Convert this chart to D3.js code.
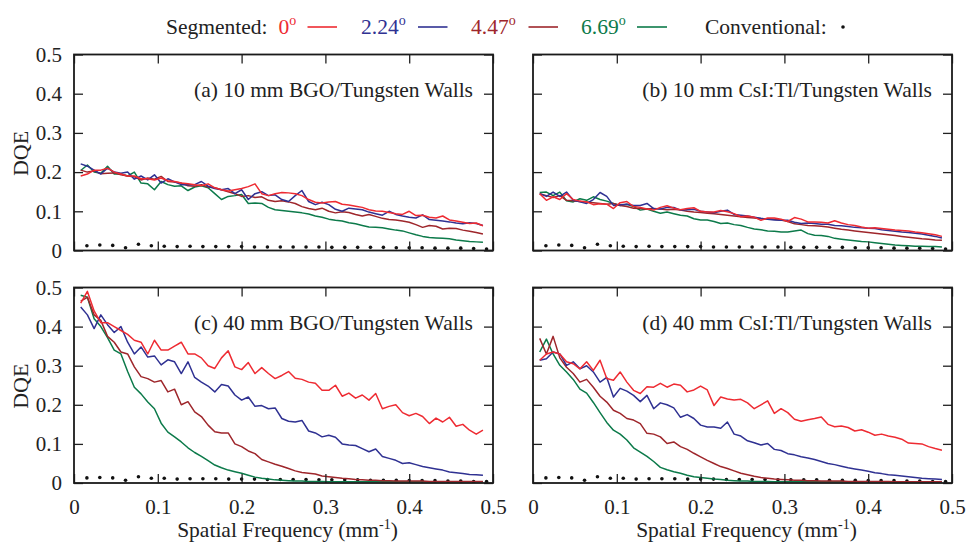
<!DOCTYPE html>
<html>
<head>
<meta charset="utf-8">
<script src="https://cdn.jsdelivr.net/npm/d3@7"></script>
<style>
  body { margin: 0; background: #fff; }
  svg { display: block; }
  text { font-family: "Liberation Serif", "Times New Roman", serif; fill: #222; }
</style>
</head>
<body>
<svg id="chart" width="967" height="543"></svg>
<script>
// Spatial frequency sample points (mm^-1) shared by the segmented-detector curves
const frequency = [0.008,0.016,0.024,0.032,0.040,0.048,0.056,0.064,0.072,0.080,
  0.088,0.096,0.104,0.112,0.120,0.128,0.136,0.144,0.152,0.160,
  0.168,0.176,0.184,0.192,0.200,0.208,0.216,0.224,0.232,0.240,
  0.248,0.256,0.264,0.272,0.280,0.288,0.296,0.304,0.312,0.320,
  0.328,0.336,0.344,0.352,0.360,0.368,0.376,0.384,0.392,0.400,
  0.408,0.416,0.424,0.432,0.440,0.448,0.456,0.464,0.472,0.480,0.488];

// Segmented detector angles and colours
const angleLabels = ["0", "2.24", "4.47", "6.69"];
const angleColors = ["#ee2b32", "#2f3192", "#9e262b", "#0c7a4a"];

// (a) 10 mm BGO / tungsten walls
const bgo10_0 = [0.19,0.195,0.205,0.205,0.21,0.2,0.195,0.19,0.19,0.183,
  0.183,0.18,0.185,0.178,0.176,0.172,0.17,0.168,0.165,0.17,
  0.16,0.155,0.152,0.155,0.158,0.163,0.17,0.145,0.14,0.145,
  0.148,0.147,0.145,0.14,0.13,0.123,0.121,0.124,0.125,0.118,
  0.116,0.113,0.11,0.104,0.101,0.1,0.097,0.094,0.092,0.1,
  0.089,0.09,0.085,0.083,0.088,0.078,0.075,0.072,0.069,0.07,0.063];
const bgo10_224 = [0.221,0.215,0.205,0.195,0.21,0.2,0.197,0.2,0.182,0.19,
  0.18,0.193,0.172,0.183,0.175,0.168,0.168,0.168,0.176,0.164,
  0.158,0.155,0.158,0.145,0.155,0.13,0.145,0.15,0.14,0.142,
  0.13,0.125,0.14,0.153,0.125,0.117,0.123,0.117,0.105,0.1,
  0.108,0.106,0.104,0.098,0.094,0.09,0.1,0.092,0.088,0.085,
  0.083,0.091,0.079,0.077,0.075,0.073,0.07,0.068,0.071,0.069,0.064];
const bgo10_447 = [0.205,0.2,0.203,0.196,0.197,0.198,0.193,0.19,0.188,0.18,
  0.185,0.182,0.189,0.176,0.175,0.172,0.165,0.164,0.168,0.162,
  0.16,0.155,0.15,0.145,0.138,0.14,0.135,0.137,0.128,0.125,
  0.127,0.124,0.12,0.112,0.107,0.104,0.108,0.1,0.096,0.099,
  0.097,0.092,0.088,0.092,0.087,0.082,0.079,0.078,0.075,0.072,
  0.066,0.059,0.064,0.062,0.055,0.057,0.056,0.052,0.049,0.046,0.042];
const bgo10_669 = [0.204,0.218,0.2,0.197,0.215,0.195,0.195,0.19,0.2,0.172,
  0.17,0.155,0.176,0.168,0.164,0.165,0.153,0.162,0.165,0.16,
  0.145,0.13,0.138,0.14,0.143,0.12,0.121,0.12,0.11,0.104,
  0.102,0.1,0.098,0.096,0.093,0.088,0.085,0.08,0.077,0.075,
  0.071,0.068,0.064,0.06,0.059,0.058,0.055,0.052,0.05,0.045,
  0.04,0.036,0.033,0.032,0.031,0.03,0.027,0.025,0.023,0.022,0.021];

// (b) 10 mm CsI:Tl / tungsten walls
const csi10_0 = [0.145,0.128,0.137,0.13,0.145,0.13,0.126,0.124,0.117,0.119,
  0.118,0.107,0.122,0.125,0.112,0.11,0.106,0.103,0.11,0.114,
  0.108,0.104,0.107,0.109,0.1,0.098,0.098,0.102,0.099,0.094,
  0.086,0.088,0.085,0.077,0.083,0.083,0.08,0.074,0.084,0.08,
  0.073,0.073,0.072,0.07,0.076,0.07,0.066,0.064,0.06,0.057,
  0.058,0.056,0.054,0.052,0.051,0.05,0.047,0.045,0.043,0.04,0.036];
const csi10_224 = [0.145,0.138,0.149,0.138,0.149,0.128,0.124,0.12,0.13,0.148,
  0.138,0.115,0.117,0.118,0.115,0.115,0.12,0.107,0.106,0.11,
  0.11,0.103,0.104,0.105,0.1,0.098,0.096,0.1,0.103,0.092,
  0.09,0.088,0.085,0.082,0.08,0.078,0.077,0.077,0.072,0.069,
  0.07,0.069,0.067,0.067,0.064,0.063,0.061,0.059,0.058,0.057,
  0.056,0.053,0.051,0.049,0.047,0.046,0.044,0.042,0.039,0.036,0.032];
const csi10_447 = [0.145,0.14,0.135,0.14,0.128,0.127,0.125,0.124,0.122,0.12,
  0.118,0.12,0.115,0.112,0.108,0.107,0.106,0.107,0.106,0.104,
  0.105,0.103,0.1,0.098,0.097,0.095,0.094,0.092,0.09,0.088,
  0.086,0.084,0.083,0.081,0.081,0.08,0.078,0.074,0.068,0.066,
  0.064,0.063,0.062,0.06,0.057,0.054,0.052,0.05,0.048,0.046,
  0.044,0.042,0.04,0.038,0.036,0.034,0.032,0.03,0.029,0.027,0.026];
const csi10_669 = [0.148,0.149,0.14,0.149,0.127,0.124,0.132,0.128,0.137,0.13,
  0.126,0.12,0.115,0.118,0.112,0.103,0.106,0.1,0.095,0.098,
  0.094,0.09,0.088,0.081,0.078,0.078,0.074,0.069,0.07,0.066,
  0.064,0.059,0.055,0.053,0.05,0.049,0.047,0.047,0.05,0.052,
  0.043,0.039,0.038,0.036,0.031,0.029,0.027,0.025,0.023,0.022,
  0.02,0.018,0.016,0.014,0.013,0.012,0.011,0.011,0.01,0.01,0.009];

// (c) 40 mm BGO / tungsten walls
const bgo40_0 = [0.46,0.49,0.44,0.41,0.41,0.40,0.39,0.38,0.365,0.36,
  0.33,0.365,0.34,0.34,0.35,0.36,0.33,0.33,0.32,0.30,
  0.293,0.32,0.338,0.297,0.29,0.308,0.28,0.295,0.28,0.267,
  0.275,0.285,0.268,0.265,0.258,0.255,0.237,0.237,0.25,0.222,
  0.23,0.217,0.225,0.212,0.229,0.19,0.196,0.2,0.18,0.172,
  0.178,0.17,0.152,0.166,0.156,0.168,0.145,0.15,0.135,0.125,0.135];
const bgo40_224 = [0.45,0.43,0.395,0.43,0.405,0.385,0.40,0.36,0.33,0.348,
  0.322,0.325,0.302,0.315,0.31,0.28,0.31,0.27,0.258,0.248,
  0.233,0.252,0.248,0.225,0.212,0.22,0.196,0.198,0.19,0.192,
  0.165,0.158,0.156,0.16,0.133,0.128,0.118,0.122,0.117,0.1,
  0.097,0.096,0.088,0.08,0.087,0.068,0.063,0.058,0.05,0.052,
  0.047,0.042,0.039,0.036,0.033,0.028,0.026,0.024,0.022,0.021,0.02];
const bgo40_447 = [0.465,0.475,0.43,0.416,0.375,0.36,0.335,0.33,0.297,0.272,
  0.267,0.258,0.262,0.233,0.24,0.2,0.208,0.182,0.17,0.148,
  0.131,0.128,0.128,0.1,0.093,0.082,0.075,0.06,0.054,0.048,
  0.043,0.037,0.031,0.027,0.025,0.023,0.018,0.016,0.014,0.012,
  0.011,0.009,0.008,0.007,0.007,0.006,0.006,0.005,0.005,0.005,
  0.005,0.005,0.004,0.004,0.004,0.004,0.004,0.004,0.004,0.004,0.004];
const bgo40_669 = [0.48,0.475,0.42,0.40,0.372,0.34,0.33,0.285,0.245,0.228,
  0.207,0.19,0.153,0.13,0.118,0.105,0.09,0.078,0.068,0.057,
  0.046,0.039,0.033,0.029,0.025,0.02,0.015,0.012,0.01,0.008,
  0.007,0.006,0.005,0.005,0.004,0.004,0.004,0.003,0.003,0.003,
  0.003,0.003,0.003,0.003,0.003,0.003,0.003,0.003,0.003,0.003,
  0.003,0.003,0.003,0.003,0.003,0.003,0.003,0.003,0.003,0.003,0.003];

// (d) 40 mm CsI:Tl / tungsten walls
const csi40_0 = [0.314,0.33,0.335,0.33,0.31,0.305,0.292,0.31,0.288,0.314,
  0.267,0.263,0.284,0.258,0.237,0.229,0.246,0.245,0.255,0.245,
  0.253,0.25,0.233,0.238,0.248,0.238,0.198,0.22,0.215,0.212,
  0.214,0.205,0.19,0.2,0.21,0.178,0.19,0.18,0.163,0.158,
  0.162,0.165,0.169,0.15,0.144,0.146,0.142,0.133,0.136,0.13,
  0.122,0.125,0.12,0.117,0.112,0.102,0.101,0.1,0.093,0.088,0.084];
const csi40_224 = [0.314,0.318,0.335,0.33,0.301,0.31,0.292,0.3,0.284,0.258,
  0.27,0.22,0.242,0.235,0.224,0.208,0.224,0.19,0.205,0.2,
  0.192,0.168,0.175,0.165,0.148,0.143,0.143,0.14,0.156,0.125,
  0.12,0.108,0.103,0.097,0.101,0.086,0.083,0.075,0.072,0.067,
  0.064,0.06,0.055,0.05,0.047,0.043,0.039,0.036,0.033,0.03,
  0.026,0.024,0.021,0.02,0.018,0.016,0.014,0.012,0.011,0.01,0.009];
const csi40_447 = [0.37,0.33,0.375,0.32,0.296,0.28,0.258,0.265,0.245,0.222,
  0.207,0.186,0.178,0.165,0.161,0.152,0.127,0.125,0.118,0.101,
  0.105,0.093,0.086,0.076,0.067,0.058,0.05,0.042,0.037,0.031,
  0.025,0.021,0.017,0.014,0.012,0.01,0.009,0.008,0.007,0.007,
  0.006,0.006,0.005,0.005,0.005,0.005,0.004,0.004,0.004,0.004,
  0.004,0.004,0.004,0.003,0.003,0.003,0.003,0.003,0.003,0.003,0.003];
const csi40_669 = [0.335,0.368,0.33,0.301,0.284,0.265,0.24,0.23,0.206,0.18,
  0.155,0.135,0.125,0.11,0.09,0.079,0.068,0.055,0.04,0.034,
  0.029,0.025,0.02,0.016,0.014,0.012,0.01,0.009,0.007,0.006,
  0.005,0.005,0.004,0.004,0.004,0.003,0.003,0.003,0.003,0.003,
  0.003,0.003,0.003,0.003,0.003,0.003,0.003,0.003,0.003,0.003,
  0.003,0.003,0.003,0.003,0.003,0.003,0.003,0.003,0.003,0.003,0.003];

// Conventional detector (dotted)
const convFrequency = [0.0154,0.0308,0.0462,0.0615,0.0769,0.0923,0.1077,0.1231,
  0.1385,0.1538,0.1692,0.1846,0.2000,0.2154,0.2308,0.2462,
  0.2615,0.2769,0.2923,0.3077,0.3231,0.3385,0.3538,0.3692,
  0.3846,0.4000,0.4154,0.4308,0.4462,0.4615,0.4769,0.4923];
const conv10 = [0.012,0.014,0.013,0.007,0.016,0.012,0.011,0.01,0.011,0.01,
  0.01,0.01,0.01,0.009,0.009,0.009,0.009,0.009,0.009,0.008,
  0.008,0.008,0.008,0.008,0.007,0.007,0.007,0.006,0.006,0.006,0.005,0.004];
const conv40 = [0.013,0.014,0.013,0.007,0.016,0.012,0.012,0.01,0.011,0.011,
  0.011,0.01,0.01,0.01,0.009,0.009,0.009,0.009,0.008,0.008,
  0.008,0.008,0.007,0.007,0.007,0.006,0.006,0.006,0.005,0.005,0.004,0.004];

// Axis ticks
const xTicks = [0, 0.1, 0.2, 0.3, 0.4, 0.5];
const xTickLabels = ["0", "0.1", "0.2", "0.3", "0.4", "0.5"];
const yTicks = [0, 0.1, 0.2, 0.3, 0.4, 0.5];
const yTickLabels = ["0", "0.1", "0.2", "0.3", "0.4", "0.5"];

const panelTitles = ["(a) 10 mm BGO/Tungsten Walls", "(b) 10 mm CsI:Tl/Tungsten Walls",
                     "(c) 40 mm BGO/Tungsten Walls", "(d) 40 mm CsI:Tl/Tungsten Walls"];

const panels = [
  { title: panelTitles[0], series: [bgo10_0, bgo10_224, bgo10_447, bgo10_669], conv: conv10,
    left: 74, right: 493, top: 54.5, bottom: 250.5, yLabels: true, xLabels: false },
  { title: panelTitles[1], series: [csi10_0, csi10_224, csi10_447, csi10_669], conv: conv10,
    left: 533, right: 952, top: 54.5, bottom: 250.5, yLabels: false, xLabels: false },
  { title: panelTitles[2], series: [bgo40_0, bgo40_224, bgo40_447, bgo40_669], conv: conv40,
    left: 74, right: 493, top: 287.5, bottom: 483, yLabels: true, xLabels: true },
  { title: panelTitles[3], series: [csi40_0, csi40_224, csi40_447, csi40_669], conv: conv40,
    left: 533, right: 952, top: 287.5, bottom: 483, yLabels: false, xLabels: true }
];

const svg = d3.select("#chart");
svg.append("rect").attr("width", 967).attr("height", 543).attr("fill", "#fff");

const FONT = "'Liberation Serif', 'Times New Roman', serif";
const TICK = 9;

function styleAxis(g, fontSize) {
  g.select(".domain").remove();
  g.attr("font-family", FONT).attr("font-size", fontSize);
  g.selectAll(".tick line").attr("stroke", "#222").attr("stroke-width", 1.3);
  g.selectAll(".tick text").attr("fill", "#222");
}

panels.forEach((p, pi) => {
  const x = d3.scaleLinear().domain([0, 0.5]).range([p.left, p.right]);
  const y = d3.scaleLinear().domain([0, 0.5]).range([p.bottom, p.top]);
  const g = svg.append("g");

  const clipId = "clip" + pi;
  g.append("clipPath").attr("id", clipId)
    .append("rect").attr("x", p.left).attr("y", p.top)
    .attr("width", p.right - p.left).attr("height", p.bottom - p.top);

  const plot = g.append("g").attr("clip-path", `url(#${clipId})`);

  // conventional detector dots
  plot.selectAll("circle.conv").data(p.conv).join("circle")
    .attr("class", "conv")
    .attr("cx", (d, i) => x(convFrequency[i]))
    .attr("cy", d => y(d))
    .attr("r", 1.8)
    .attr("fill", "#111");

  // segmented curves: drawn from the largest angle up so 0° sits on top
  const line = d3.line().x((d, i) => x(frequency[i])).y(d => y(d));
  [3, 2, 1, 0].forEach(k => {
    plot.append("path")
      .datum(p.series[k])
      .attr("d", line)
      .attr("fill", "none")
      .attr("stroke", angleColors[k])
      .attr("stroke-width", 1.5)
      .attr("stroke-linejoin", "round");
  });

  // mirrored inward ticks on all four sides
  const left = g.append("g").attr("transform", `translate(${p.left},0)`)
    .call(d3.axisLeft(y).tickValues(yTicks).tickSize(-TICK).tickPadding(12)
      .tickFormat((d, i) => p.yLabels ? yTickLabels[i] : ""));
  styleAxis(left, 21);

  const bottom = g.append("g").attr("transform", `translate(0,${p.bottom})`)
    .call(d3.axisBottom(x).tickValues(xTicks).tickSize(-TICK).tickPadding(16)
      .tickFormat((d, i) => p.xLabels ? xTickLabels[i] : ""));
  styleAxis(bottom, 21);

  const top = g.append("g").attr("transform", `translate(0,${p.top})`)
    .call(d3.axisTop(x).tickValues(xTicks).tickSize(-TICK).tickFormat(""));
  styleAxis(top, 21);

  const right = g.append("g").attr("transform", `translate(${p.right},0)`)
    .call(d3.axisRight(y).tickValues(yTicks).tickSize(-TICK).tickFormat(""));
  styleAxis(right, 21);

  // frame
  g.append("rect")
    .attr("x", p.left).attr("y", p.top)
    .attr("width", p.right - p.left).attr("height", p.bottom - p.top)
    .attr("fill", "none").attr("stroke", "#1a1a1a").attr("stroke-width", 1.8);

  // panel title
  g.append("text")
    .attr("x", p.right - 20).attr("y", p.top + 42)
    .attr("text-anchor", "end")
    .attr("font-size", 21.5)
    .text(p.title);

  if (p.yLabels) {
    g.append("text")
      .attr("transform", `translate(28,${(p.top + p.bottom) / 2 + 1}) rotate(-90)`)
      .attr("text-anchor", "middle")
      .attr("font-size", 22)
      .text("DQE");
  }

  if (p.xLabels) {
    const t = g.append("text")
      .attr("x", (p.left + p.right) / 2 + 4).attr("y", 537)
      .attr("text-anchor", "middle")
      .attr("font-size", 21.5);
    t.append("tspan").text("Spatial Frequency (mm");
    t.append("tspan").attr("font-size", 14).attr("dy", -8).text("-1");
    t.append("tspan").attr("dy", 8).text(")");
  }
});

// Legend
const legendY = 34;
const legend = svg.append("g").attr("font-size", 21.5);
legend.append("text").attr("x", 166).attr("y", legendY).text("Segmented:");

const legendTextX = [278.5, 361, 471, 581];
const legendLineX = [[307.5, 337], [418, 447.5], [528.5, 558], [637, 667]];
angleLabels.forEach((lab, i) => {
  const t = legend.append("text")
    .attr("x", legendTextX[i]).attr("y", legendY)
    .style("fill", angleColors[i]);
  t.append("tspan").text(lab);
  t.append("tspan").attr("font-size", 14).attr("dy", -9).text("o");
  legend.append("line")
    .attr("x1", legendLineX[i][0]).attr("x2", legendLineX[i][1])
    .attr("y1", legendY - 7).attr("y2", legendY - 7)
    .attr("stroke", angleColors[i]).attr("stroke-width", 1.6);
});

legend.append("text").attr("x", 705).attr("y", legendY).text("Conventional:");
legend.append("circle").attr("cx", 843).attr("cy", legendY - 7).attr("r", 1.8).attr("fill", "#111");
</script>
</body>
</html>
